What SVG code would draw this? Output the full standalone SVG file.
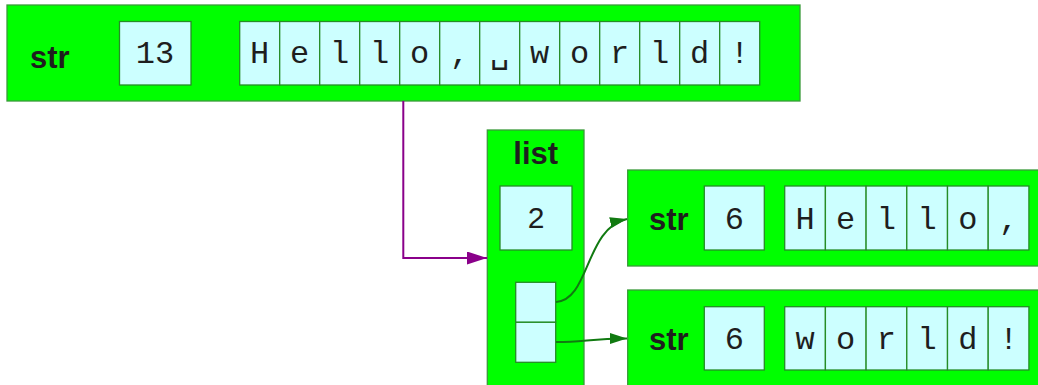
<svg xmlns="http://www.w3.org/2000/svg" width="1038" height="385" viewBox="0 0 1038 385">
<style>
.box{fill:#00ff00;stroke:#3a9a3a;stroke-width:1.3}
.cell{fill:#ccffff;stroke:#268c26;stroke-width:1.3}
.lbl{font-family:"Liberation Sans",Arial,sans-serif;font-weight:bold;font-size:31px;fill:#1e1e1e}
.mono{font-family:"Liberation Mono","DejaVu Sans Mono",monospace;font-size:32px;fill:#1e1e1e;text-anchor:middle}
.num{font-family:"Liberation Sans",Arial,sans-serif;font-size:30px;fill:#1e1e1e;text-anchor:middle}
.pur{fill:none;stroke:#8a008a;stroke-width:2}
.grn{fill:none;stroke:#117a11;stroke-width:2}
</style>
<defs>
<marker id="ap" markerWidth="20" markerHeight="13" refX="20" refY="6.5" orient="auto" markerUnits="userSpaceOnUse"><path d="M0,0 L20,6.5 L0,13 z" fill="#8a008a"/></marker>
<marker id="ag" markerWidth="17" markerHeight="11" refX="17" refY="5.5" orient="auto" markerUnits="userSpaceOnUse"><path d="M0,0 L17,5.5 L0,11 z" fill="#117a11"/></marker>
</defs>
<g id="str_main">
<rect class="box" x="7" y="5" width="793" height="96"/>
<text class="lbl" x="30" y="68">str</text>
<rect class="cell" x="119.5" y="21.5" width="71.5" height="63.5"/>
<text class="mono" x="155" y="62.5">13</text>
<g>
<rect class="cell" x="239.7" y="21.5" width="40" height="63.5"/>
<rect class="cell" x="279.7" y="21.5" width="40" height="63.5"/>
<rect class="cell" x="319.7" y="21.5" width="40" height="63.5"/>
<rect class="cell" x="359.7" y="21.5" width="40" height="63.5"/>
<rect class="cell" x="399.7" y="21.5" width="40" height="63.5"/>
<rect class="cell" x="439.7" y="21.5" width="40" height="63.5"/>
<rect class="cell" x="479.7" y="21.5" width="40" height="63.5"/>
<rect class="cell" x="519.7" y="21.5" width="40" height="63.5"/>
<rect class="cell" x="559.7" y="21.5" width="40" height="63.5"/>
<rect class="cell" x="599.7" y="21.5" width="40" height="63.5"/>
<rect class="cell" x="639.7" y="21.5" width="40" height="63.5"/>
<rect class="cell" x="679.7" y="21.5" width="40" height="63.5"/>
<rect class="cell" x="719.7" y="21.5" width="40" height="63.5"/>
</g>
<text class="mono" y="62.5"><tspan x="259.7">H</tspan><tspan x="299.7">e</tspan><tspan x="339.7">l</tspan><tspan x="379.7">l</tspan><tspan x="419.7">o</tspan><tspan x="459.7">,</tspan><tspan x="499.7">␣</tspan><tspan x="539.7">w</tspan><tspan x="579.7">o</tspan><tspan x="619.7">r</tspan><tspan x="659.7">l</tspan><tspan x="699.7">d</tspan><tspan x="739.7">!</tspan></text>
</g>
<g id="list">
<rect class="box" x="487.3" y="130" width="96.7" height="262"/>
<text class="lbl" x="535.7" y="164" text-anchor="middle">list</text>
<rect class="cell" x="500" y="186" width="72" height="64"/>
<text class="num" x="536" y="227.5">2</text>
<rect class="cell" x="515.7" y="282.3" width="40" height="40"/>
<rect class="cell" x="515.7" y="322.3" width="40" height="40"/>
</g>
<g id="str_hello">
<rect class="box" x="627.7" y="170" width="415" height="96"/>
<text class="lbl" x="649" y="230">str</text>
<rect class="cell" x="704.3" y="186" width="60" height="64"/>
<text class="mono" x="734.3" y="228.5">6</text>
<rect class="cell" x="784.7" y="186" width="40.7" height="64"/>
<rect class="cell" x="825.4" y="186" width="40.7" height="64"/>
<rect class="cell" x="866.1" y="186" width="40.7" height="64"/>
<rect class="cell" x="906.8" y="186" width="40.7" height="64"/>
<rect class="cell" x="947.5" y="186" width="40.7" height="64"/>
<rect class="cell" x="988.2" y="186" width="40.7" height="64"/>
<text class="mono" y="228.5"><tspan x="805">H</tspan><tspan x="845.7">e</tspan><tspan x="886.4">l</tspan><tspan x="927.1">l</tspan><tspan x="967.8">o</tspan><tspan x="1008.5">,</tspan></text>
</g>
<g id="str_world">
<rect class="box" x="627.7" y="290" width="415" height="100"/>
<text class="lbl" x="649" y="350">str</text>
<rect class="cell" x="704.3" y="306.7" width="60" height="63.3"/>
<text class="mono" x="734.3" y="349">6</text>
<rect class="cell" x="784.7" y="306.7" width="40.7" height="63.3"/>
<rect class="cell" x="825.4" y="306.7" width="40.7" height="63.3"/>
<rect class="cell" x="866.1" y="306.7" width="40.7" height="63.3"/>
<rect class="cell" x="906.8" y="306.7" width="40.7" height="63.3"/>
<rect class="cell" x="947.5" y="306.7" width="40.7" height="63.3"/>
<rect class="cell" x="988.2" y="306.7" width="40.7" height="63.3"/>
<text class="mono" y="349"><tspan x="805">w</tspan><tspan x="845.7">o</tspan><tspan x="886.4">r</tspan><tspan x="927.1">l</tspan><tspan x="967.8">d</tspan><tspan x="1008.5">!</tspan></text>
</g>
<g id="connectors">
<path class="pur" d="M403.3,101 L403.3,258 L487,258" marker-end="url(#ap)"/>
<path class="grn" d="M556,302 C590,300 585,228 627,219" marker-end="url(#ag)"/>
<path class="grn" d="M556,342 C585,342 590,338.5 627,338.5" marker-end="url(#ag)"/>
</g>
</svg>
